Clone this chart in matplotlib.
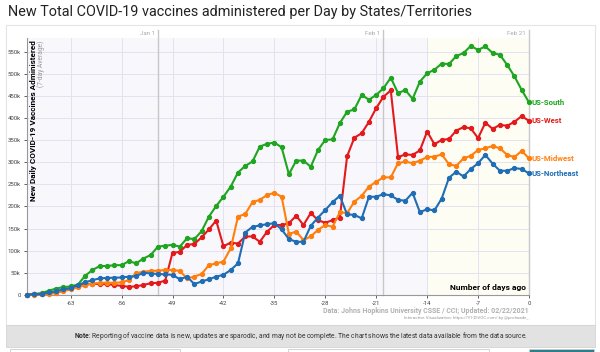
import matplotlib
matplotlib.use("Agg")
import matplotlib.pyplot as plt
import numpy as np
from matplotlib.patches import Rectangle

plt.rcParams["font.family"] = ["Roboto", "DejaVu Sans"]
plt.rcParams["mathtext.fontset"] = "custom"
plt.rcParams["mathtext.bf"] = "Roboto:bold"

W, H = 600, 352

# days before Feb 21, 2021
days = list(range(-69, 1))

south = [0, 1, 4, 9, 14, 17, 19, 23, 43, 56,
         65, 65, 67, 67, 76, 71, 82, 90, 109, 111,
         113, 109, 128, 126, 144, 177, 201, 222, 245, 277,
         292, 302, 336, 342, 345, 334, 273, 304, 304, 290,
         328, 351, 352, 389, 415, 420, 453, 442, 453, 468,
         492, 457, 464, 444, 483, 502, 510, 524, 523, 541,
         548, 564, 555, 563, 548, 544, 521, 495, 464, 436]
west = [0, 0.5, 1, 3, 7, 10, 15, 20, 23, 25,
        24, 24, 22, 20, 18, 19, 22, 26, 27, 32,
        95, 97, 113, 115, 130, 148, 168, 110, 118, 116,
        132, 132, 120, 143, 158, 158, 162, 179, 158, 185,
        169, 163, 169, 175, 314, 356, 366, 392, 423, 449,
        463, 312, 318, 317, 327, 370, 341, 351, 353, 372,
        380, 377, 355, 390, 376, 385, 383, 392, 405, 394]
midwest = [0, 0, 0.5, 1.5, 4, 8, 12, 17, 22, 25,
           27, 27, 27, 28, 33, 49, 52, 54, 54.5, 56,
           56, 54, 37, 41, 47, 67, 71, 75, 105, 177,
           183, 210, 215, 226, 231, 222, 138, 143, 124, 132,
           147, 158, 154, 187, 185, 211, 224, 245, 256, 266,
           266, 298, 302, 298, 304, 312, 313, 318, 296, 292,
           309, 315, 328, 332, 337, 332, 317, 312, 326, 309]
northeast = [0, 1, 1.5, 5, 8, 12, 15, 22, 28, 33,
             37, 38, 38.5, 39, 41, 42, 50, 48, 47, 46,
             45, 35, 41, 24, 30, 35, 41, 45, 56, 71,
             141, 154, 157, 160, 162, 148, 126, 120, 120, 156,
             175, 192, 210, 224, 182, 181, 173, 222, 222, 228,
             225, 215, 213, 231, 187, 194, 191, 218, 265, 279,
             268, 285, 298, 317, 297, 281, 281, 287, 285, 275]

series_names = ["US-South", "US-West", "US-Midwest", "US-Northeast"]
series_colors = ["#1fa51f", "#e31a1c", "#ff7f0e", "#1f6db4"]
series_values = [south, west, midwest, northeast]

date_marks = ["Jan 1", "Feb 1", "Feb 21"]
date_days = [-51, -20, 0]

x_ticks = list(range(-63, 1, 7))
y_ticks = list(range(0, 550001, 50000))


def fx(x):
    return x / W


def fy(y):
    return 1 - y / H


fig = plt.figure(figsize=(W / 100, H / 100), dpi=100)
fig.patch.set_facecolor("white")

# outer container border
fig.patches.append(Rectangle((fx(6), fy(325)), fx(589), 300 / H, transform=fig.transFigure,
                             facecolor="none", edgecolor="#e4e4e4", lw=0.8))

ax = fig.add_axes([fx(27), fy(294.7), fx(502), 256.7 / H])
ax.set_facecolor("#f8f7fc")
ax.set_xlim(-69, 0)
ax.set_ylim(0, 582000)

# last two weeks shaded
ax.axvspan(-14, 0, color="#fdfdf3", zorder=0)

ax.set_xticks(x_ticks)
ax.set_xticklabels([str(t) for t in x_ticks])
ax.set_yticks(y_ticks)
ax.set_yticklabels(["0"] + [f"{t // 1000}k" for t in y_ticks[1:]])
ax.tick_params(labelsize=4.3, colors="#444444", length=2.5, width=0.6, pad=2)
ax.grid(True, color="#e4e2ee", lw=0.7)
ax.set_axisbelow(True)
for s in ["top", "right"]:
    ax.spines[s].set_visible(False)
for s in ["left", "bottom"]:
    ax.spines[s].set_color("#999999")
    ax.spines[s].set_linewidth(0.8)

for name, d in zip(date_marks, date_days):
    ax.plot([d, d], [0, 1.031], transform=ax.get_xaxis_transform(), color="#c8c8c8",
            lw=1.0, clip_on=False, zorder=1)
    ax.text(d - 0.4, 1.018, name, transform=ax.get_xaxis_transform(), ha="right", va="center",
            fontsize=4.5, color="#aaaaaa")

vals_k = [np.array(v) * 1000 for v in series_values]
for name, color, v in zip(series_names, series_colors, vals_k):
    ax.plot(days, v, color=color, lw=1.5, marker="o", ms=2.8, clip_on=False, zorder=3)
    ax.text(days[-1] + 0.35, v[-1], name, color=color, fontsize=5.6, fontweight="bold",
            ha="left", va="center", clip_on=False)

ax.text(0.012, 0.99, "New Daily COVID-19 Vaccines Administered", transform=ax.transAxes,
        rotation=90, ha="center", va="top", fontsize=5.9, fontweight="bold", color="black")
ax.text(0.028, 0.99, "(7-day Average)", transform=ax.transAxes,
        rotation=90, ha="center", va="top", fontsize=4.8, color="#999999")
ax.text(-0.4, 8000, "Number of days ago", ha="right", va="bottom", fontsize=6,
        fontweight="bold", color="black")

fig.text(fx(8), fy(12), "New Total COVID-19 vaccines administered per Day by States/Territories",
         fontsize=10.4, color="#222222", ha="left", va="center")
fig.text(fx(529), fy(311), "Data: Johns Hopkins University CSSE / CCI; Updated: 02/22/2021",
         fontsize=5, fontweight="bold", color="#b0b0b0", ha="right", va="center")
fig.text(fx(529), fy(318.5), "Interactive Visualization: https://91-DIVOC.com/ by @profwade_",
         fontsize=3.2, color="#999999", ha="right", va="center")

fig.patches.append(Rectangle((fx(6), fy(347)), fx(589), 22 / H, transform=fig.transFigure,
                             facecolor="#e2e2e2", edgecolor="#d4d4d4", lw=0.6))
fig.text(fx(301), fy(336), r"$\bf{Note}$: Reporting of vaccine data is new, updates are sparodic, and may not be complete. "
         "The chart shows the latest data available from the data source.",
         fontsize=4.9, color="#333333", ha="center", va="center")

# partial controls at the very bottom
for x0, x1, fc in [(10, 180, "white"), (288, 489, "white"), (529, 594, "#2a7f8a")]:
    fig.patches.append(Rectangle((fx(x0), 0), fx(x1 - x0), 3.5 / H, transform=fig.transFigure,
                                 facecolor=fc, edgecolor="#cccccc", lw=0.6))

fig.savefig("out.png", dpi=100)
